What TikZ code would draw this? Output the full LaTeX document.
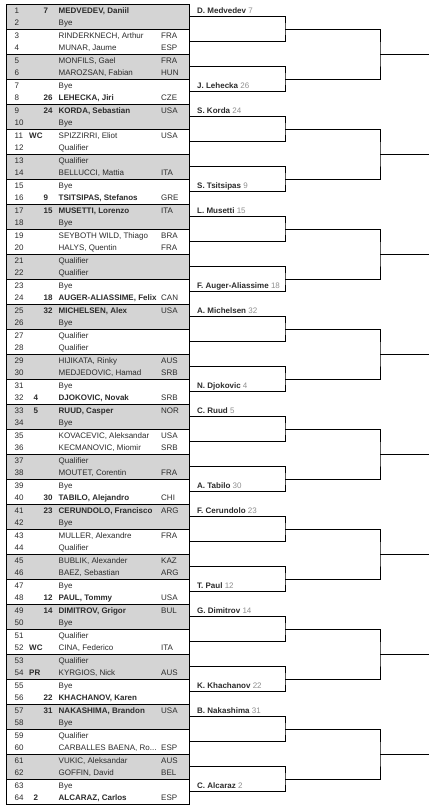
\documentclass[tikz,border=0pt]{standalone}
\usepackage{fontspec}
\setmainfont{Liberation Sans}
\usetikzlibrary{calc}
\definecolor{ink}{HTML}{2B2B2B}
\definecolor{cellgray}{HTML}{D4D4D4}
\definecolor{seedgray}{HTML}{8E8E8E}

\begin{document}
\begin{tikzpicture}[x=1pt,y=-1pt,font=\fontsize{8}{9.6}\selectfont,text=ink]
    \tikzset{
      cell/.style={anchor=base west,inner sep=0pt},
      seeded/.style={cell,font=\fontsize{8}{9.6}\selectfont\bfseries},
      frame/.style={draw=black,line width=0.8pt},
      link/.style={draw=black,line width=0.9pt},
      winner/.style={anchor=base west,inner sep=0pt}
    }
    \useasboundingbox (0,0) rectangle (429,807);
    % draw table
    \foreach \k in {0,2,...,30} {
      \fill[cellgray] (6.5,{4+25*\k}) rectangle (189,{29+25*\k});
    }
    \foreach \k in {1,...,31} {
      \draw[frame] (6.5,{4+25*\k}) -- (189,{4+25*\k});
    }
    \draw[frame] (6.5,4) rectangle (189,804);
    \foreach \r in {1,...,64} {
      \node[cell] (num-\r) at (14.5,{12.5*\r+0.75}) {\r};
    }
    \foreach \r/\tg in {11/WC,52/WC,54/PR} {
      \node[seeded] (tag-\r) at (29,{12.5*\r+0.75}) {\tg};
    }
    \foreach \r/\sd/\sx/\nm/\ct in {1/7/43.5/{MEDVEDEV, Daniil}/{},8/26/43.5/{LEHECKA, Jiri}/CZE,
      9/24/43.5/{KORDA, Sebastian}/USA,16/9/43.5/{TSITSIPAS, Stefanos}/GRE,17/15/43.5/{MUSETTI, Lorenzo}/ITA,
      24/18/43.5/{AUGER-ALIASSIME, Felix}/CAN,25/32/43.5/{MICHELSEN, Alex}/USA,32/4/33.5/{DJOKOVIC, Novak}/SRB,
      33/5/33.5/{RUUD, Casper}/NOR,40/30/43.5/{TABILO, Alejandro}/CHI,41/23/43.5/{CERUNDOLO, Francisco}/ARG,
      48/12/43.5/{PAUL, Tommy}/USA,49/14/43.5/{DIMITROV, Grigor}/BUL,56/22/43.5/{KHACHANOV, Karen}/{},
      57/31/43.5/{NAKASHIMA, Brandon}/USA,64/2/33.5/{ALCARAZ, Carlos}/ESP} {
      \node[seeded] (seed-\r) at (\sx,{12.5*\r+0.75}) {\sd};
      \node[seeded] (name-\r) at (58.5,{12.5*\r+0.75}) {\nm};
      \node[cell] (cty-\r) at (161,{12.5*\r+0.75}) {\ct};
    }
    \foreach \r/\nm/\ct in {2/Bye/{},3/{RINDERKNECH, Arthur}/FRA,4/{MUNAR, Jaume}/ESP,5/{MONFILS, Gael}/FRA,
      6/{MAROZSAN, Fabian}/HUN,7/Bye/{},10/Bye/{},11/{SPIZZIRRI, Eliot}/USA,12/Qualifier/{},13/Qualifier/{},
      14/{BELLUCCI, Mattia}/ITA,15/Bye/{},18/Bye/{},19/{SEYBOTH WILD, Thiago}/BRA,20/{HALYS, Quentin}/FRA,
      21/Qualifier/{},22/Qualifier/{},23/Bye/{},26/Bye/{},27/Qualifier/{},28/Qualifier/{},
      29/{HIJIKATA, Rinky}/AUS,30/{MEDJEDOVIC, Hamad}/SRB,31/Bye/{},34/Bye/{},35/{KOVACEVIC, Aleksandar}/USA,
      36/{KECMANOVIC, Miomir}/SRB,37/Qualifier/{},38/{MOUTET, Corentin}/FRA,39/Bye/{},42/Bye/{},
      43/{MULLER, Alexandre}/FRA,44/Qualifier/{},45/{BUBLIK, Alexander}/KAZ,46/{BAEZ, Sebastian}/ARG,
      47/Bye/{},50/Bye/{},51/Qualifier/{},52/{CINA, Federico}/ITA,53/Qualifier/{},54/{KYRGIOS, Nick}/AUS,
      55/Bye/{},58/Bye/{},59/Qualifier/{},60/{CARBALLES BAENA, Ro...}/ESP,61/{VUKIC, Aleksandar}/AUS,
      62/{GOFFIN, David}/BEL,63/Bye/{}} {
      \node[cell] (name-\r) at (58.5,{12.5*\r+0.75}) {\nm};
      \node[cell] (cty-\r) at (161,{12.5*\r+0.75}) {\ct};
    }
    % bracket
    \foreach \k in {1,...,32} \coordinate (a-\k) at (189,{25*\k-8.5});
    \foreach \j in {1,...,16} \coordinate (b-\j) at (285,{50*\j-21});
    \foreach \i in {1,...,8} {
      \coordinate (c-\i) at (380,{100*\i-46});
      \coordinate (d-\i) at (429,{100*\i-46});
    }
    \foreach \j in {1,...,16} {
      \pgfmathtruncatemacro\up{2*\j-1}
      \pgfmathtruncatemacro\dn{2*\j}
      \draw[link] (a-\up) -| (b-\j) |- (a-\dn);
    }
    \foreach \i in {1,...,8} {
      \pgfmathtruncatemacro\up{2*\i-1}
      \pgfmathtruncatemacro\dn{2*\i}
      \draw[link] (b-\up) -| (c-\i) |- (b-\dn);
      \draw[link] (c-\i) -- (d-\i);
    }
    \foreach \k/\pl/\sd in {1/D. Medvedev/7,4/J. Lehecka/26,5/S. Korda/24,8/S. Tsitsipas/9,
      9/L. Musetti/15,12/F. Auger-Aliassime/18,13/A. Michelsen/32,16/N. Djokovic/4,
      17/C. Ruud/5,20/A. Tabilo/30,21/F. Cerundolo/23,24/T. Paul/12,
      25/G. Dimitrov/14,28/K. Khachanov/22,29/B. Nakashima/31,32/C. Alcaraz/2} {
      \node[winner] (win-\k) at ([xshift=8pt,yshift=3.5pt]a-\k) {\textbf{\pl} \textcolor{seedgray}{\sd}};
    }
  \end{tikzpicture}
\end{document}
